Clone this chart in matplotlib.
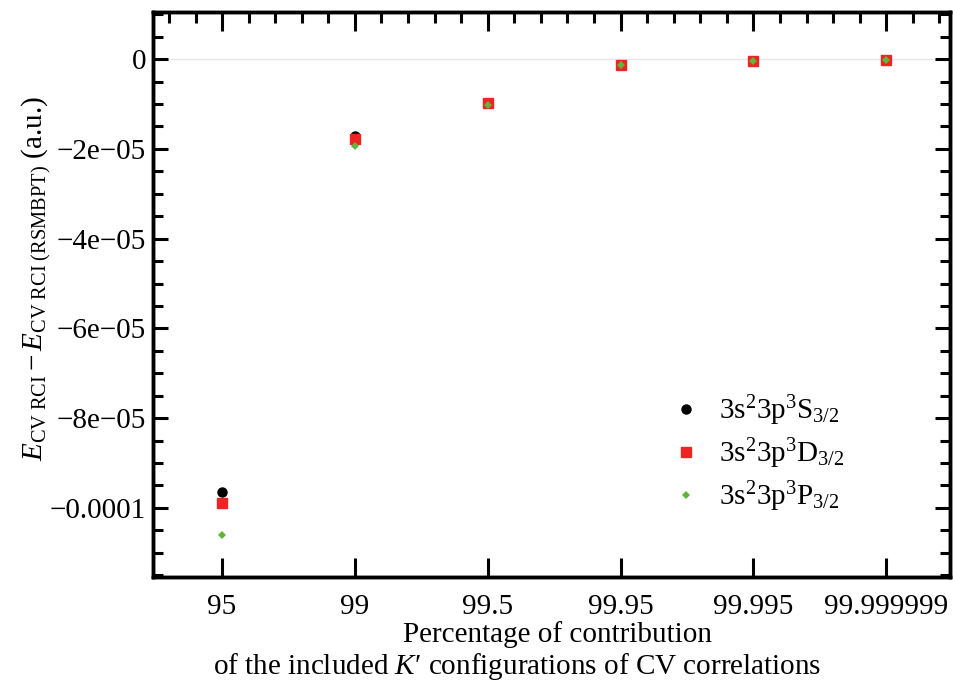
import numpy as np
import matplotlib
matplotlib.use("Agg")
import matplotlib.pyplot as plt
from matplotlib.ticker import FixedLocator

plt.rcParams["font.family"] = ["Liberation Serif", "DejaVu Serif"]
plt.rcParams["mathtext.fontset"] = "custom"
plt.rcParams["mathtext.rm"] = "Liberation Serif"
plt.rcParams["mathtext.it"] = "Liberation Serif:italic"
plt.rcParams["mathtext.bf"] = "Liberation Serif:bold"

categories = ["95", "99", "99.5", "99.95", "99.995", "99.999999"]
s32 = [-9.64e-05, -1.72e-05, -0.98e-05, -1.2e-06, -4.5e-07, -2.2e-07]
d32 = [-9.90e-05, -1.79e-05, -0.98e-05, -1.2e-06, -4.5e-07, -2.2e-07]
p32 = [-1.060e-04, -1.94e-05, -1.03e-05, -1.3e-06, -4.7e-07, -2.3e-07]
labels = [r"3s$^2$3p$^3$S$_{3/2}$", r"3s$^2$3p$^3$D$_{3/2}$", r"3s$^2$3p$^3$P$_{3/2}$"]
ytick_vals = [0, -2e-05, -4e-05, -6e-05, -8e-05, -1e-04]
ytick_txt = ["0", "\u22122e\u221205", "\u22124e\u221205", "\u22126e\u221205",
             "\u22128e\u221205", "\u22120.0001"]

xs = np.arange(len(categories))
FS = 21

fig = plt.figure(figsize=(9.54, 6.83), dpi=100)
ax = fig.add_axes([153 / 954, 1 - 577 / 683, (950 - 153) / 954, (577 - 12) / 683])

ax.axhline(0, color="#e6e6e6", lw=1, zorder=0)
ax.plot(xs, s32, "o", color="black", ms=6.5, label=labels[0], zorder=3)
ax.plot(xs, d32, "s", color="#ee2424", ms=7, label=labels[1], zorder=4)
ax.plot(xs, p32, "D", color="#62b43c", ms=4, mew=0, label=labels[2], zorder=5)

ax.set_xlim(-0.52, 5.48)
ax.set_ylim(-1.154e-04, 1.05e-05)

ax.set_xticks(xs)
ax.set_xticklabels(categories)
ax.set_yticks(ytick_vals)
ax.set_yticklabels(ytick_txt)
ax.yaxis.set_minor_locator(FixedLocator(np.arange(-1.15e-04, 1.05e-05, 0.5e-05)))

ax.tick_params(axis="both", which="major", direction="in", width=2.2, labelsize=FS)
ax.tick_params(axis="y", which="major", length=11, right=True, pad=5)
ax.tick_params(axis="y", which="minor", direction="in", length=7, width=2.2, right=True)
ax.tick_params(axis="x", which="major", length=14, pad=12, bottom=True, top=False)

top = ax.twiny()
top.set_xlim(ax.get_xlim())
top.set_xticks(xs)
top.xaxis.set_minor_locator(FixedLocator(np.arange(-0.4, 5.5, 0.2)))
top.tick_params(axis="x", which="major", direction="in", length=14, width=2.2, labeltop=False)
top.tick_params(axis="x", which="minor", direction="in", length=8, width=2.2)

for a in (ax, top):
    for sp in a.spines.values():
        sp.set_linewidth(2.5)

fig.text(558 / 954, 1 - 635 / 683, "Percentage of contribution", fontsize=FS,
         ha="center", va="center")
fig.text(517 / 954, 1 - 667 / 683,
         "of the included $K$\u2032 configurations of CV correlations", fontsize=FS,
         ha="center", va="center")
fig.text(36 / 954, 1 - 278 / 683,
         r"$E_{\mathrm{CV\ RCI}} - E_{\mathrm{CV\ RCI\ (RSMBPT)}}$ (a.u.)",
         fontsize=FS, rotation=90, ha="center", va="center")

ax.legend(loc="center left", bbox_to_anchor=(0.617, 0.218), frameon=False,
          fontsize=FS, handlelength=1.0, handletextpad=0.66, labelspacing=0.3,
          numpoints=1)

fig.savefig("out.png", dpi=100)
